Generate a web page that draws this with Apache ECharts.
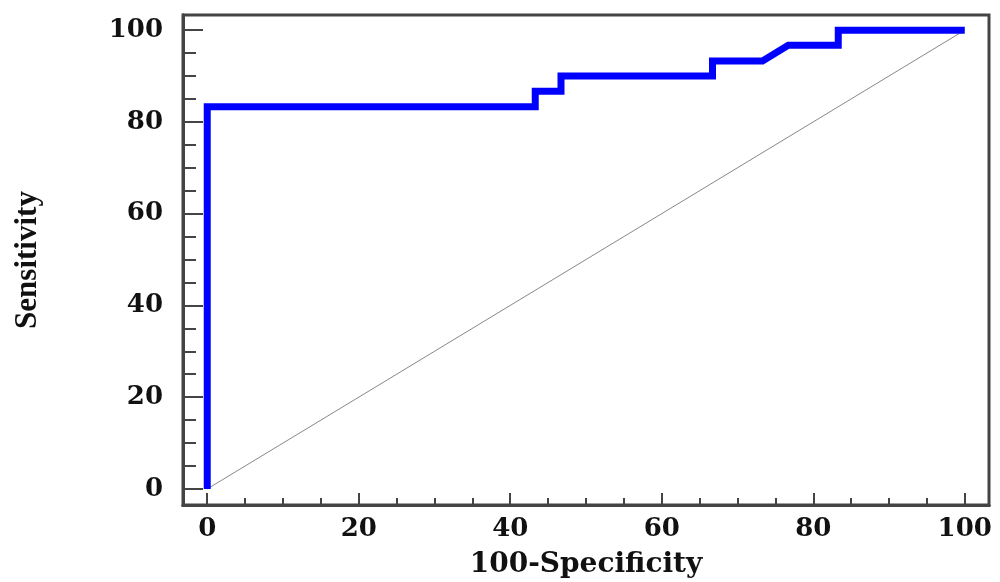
<!DOCTYPE html>
<html>
<head>
<meta charset="utf-8">
<script src="https://cdn.jsdelivr.net/npm/echarts@6/dist/echarts.min.js"></script>
<style>html,body{margin:0;padding:0;background:#fff;}#c{width:1000px;height:582px;}</style>
</head>
<body>
<div id="c"></div>
<script>
const specX = [0, 0, 43.3, 43.3, 46.7, 46.7, 66.7, 66.7, 73.3, 76.7, 83.3, 83.3, 100];
const sensY = [0, 83.3, 83.3, 86.7, 86.7, 90, 90, 93.3, 93.3, 96.7, 96.7, 100, 100];
const refX = [0, 100];
const refY = [0, 100];
const majorTicks = [0, 20, 40, 60, 80, 100];
const minorTicks = [5, 10, 15, 25, 30, 35, 45, 50, 55, 65, 70, 75, 85, 90, 95];

const chart = echarts.init(document.getElementById('c'));
const labelFont = {fontFamily: 'DejaVu Serif', fontWeight: 'bold', fontSize: 26, color: '#111'};
const axisLine = {show: true, onZero: false, lineStyle: {color: '#444', width: 3}};
function xAx(ticks, len, showLabel, name) {
  return {
    type: 'value', min: -3.2, max: 103.2, gridIndex: 0, position: 'bottom', offset: 0,
    axisLine: axisLine,
    axisTick: {show: true, inside: true, length: len, customValues: ticks, lineStyle: {color: '#444', width: 2}},
    axisLabel: Object.assign({show: showLabel, customValues: ticks, margin: 11}, labelFont),
    splitLine: {show: false},
    name: name, nameLocation: 'middle', nameGap: 46,
    nameTextStyle: {fontFamily: 'DejaVu Serif', fontWeight: 'bold', fontSize: 28, color: '#111'}
  };
}
function yAx(ticks, len, showLabel, name) {
  return {
    type: 'value', min: -3.5, max: 103.3, gridIndex: 0, position: 'left', offset: 0,
    axisLine: axisLine,
    axisTick: {show: true, inside: true, length: len, customValues: ticks, lineStyle: {color: '#444', width: 2}},
    axisLabel: Object.assign({show: showLabel, customValues: ticks, margin: 20}, labelFont),
    splitLine: {show: false},
    name: name, nameLocation: 'middle', nameGap: 140,
    nameTextStyle: {fontFamily: 'Liberation Serif', fontWeight: 'bold', fontSize: 31, color: '#111'}
  };
}
chart.setOption({
  animation: false,
  backgroundColor: '#fff',
  grid: {left: 183, top: 15, right: 11, bottom: 77, show: true, borderColor: '#444', borderWidth: 3,
         containLabel: false, outerBoundsMode: 'none'},
  xAxis: [xAx(majorTicks, 12, true, '100-Specificity'), xAx(minorTicks, 7, false, '')],
  yAxis: [yAx(majorTicks, 20, true, 'Sensitivity'), yAx(minorTicks, 13, false, '')],
  series: [
    {
      type: 'line', xAxisIndex: 0, yAxisIndex: 0,
      data: refX.map((x, i) => [x, refY[i]]),
      symbol: 'none', lineStyle: {color: '#888', width: 1}, z: 2
    },
    {
      type: 'line', xAxisIndex: 0, yAxisIndex: 0,
      data: specX.map((x, i) => [x, sensY[i]]),
      symbol: 'none', lineStyle: {color: '#0000ff', width: 7, join: 'miter'}, z: 3
    }
  ]
});
</script>
</body>
</html>
